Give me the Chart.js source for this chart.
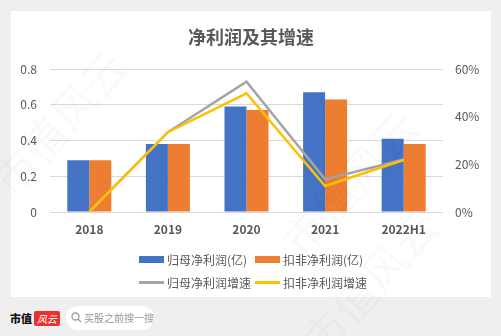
<!DOCTYPE html>
<html lang="zh">
  <head>
    <meta charset="UTF-8" />
    <title>净利润及其增速</title>
    <script src="https://cdn.jsdelivr.net/npm/chart.js@4.4.1/dist/chart.umd.min.js"></script>
    <style>
      body { margin: 0; background: #efefef; font-family: "Noto Sans CJK SC", sans-serif; }
      .page { position: relative; width: 501px; height: 336px; overflow: hidden; }
      .card { position: absolute; left: 11px; top: 11px; width: 480px; height: 286px; background: #fff; }
      #profit-chart { position: absolute; left: 0; top: 0; }
      .legend-item { position: absolute; display: flex; align-items: center; font-size: 12px; color: #595959; white-space: nowrap; }
      .legend-item .mark { width: 25px; margin-right: 3px; }
      .footer-brand { position: absolute; left: 10px; top: 310px; font-size: 11px; line-height: 16px; font-weight: 900; color: #111; }
      .footer-logo { position: absolute; left: 34px; top: 311px; width: 26px; height: 15px; background: #e8322d; color: #fff;
        font-size: 10px; font-style: italic; line-height: 15px; text-align: center; border-radius: 2px; }
      .search { position: absolute; left: 66px; top: 306px; width: 88px; height: 24px; background: #fff; border-radius: 12px;
        font-size: 10px; color: #9a9a9a; line-height: 24px; }
      .search svg { position: absolute; left: 5px; top: 6px; }
      .search span { position: absolute; left: 18px; }
      .wm { position: absolute; font-size: 44px; color: rgba(0, 0, 0, 0.022); transform: rotate(-48deg); white-space: nowrap; pointer-events: none; }
    </style>
  </head>
  <body>
    <div class="page">
      <div class="card">
        <canvas id="profit-chart" width="480" height="286"></canvas>
        <div id="legend"></div>
      </div>
      <div class="footer-brand">市值</div>
      <div class="footer-logo">风云</div>
      <div class="search">
        <svg width="11" height="11" viewBox="0 0 11 11"><circle cx="4.5" cy="4.5" r="3.5" fill="none" stroke="#999" stroke-width="1.3"/><line x1="7" y1="7" x2="10" y2="10" stroke="#999" stroke-width="1.3"/></svg>
        <span>买股之前搜一搜</span>
      </div>
      <!-- 水印 -->
      <div class="wm" style="left:-30px; top:90px;">市值风云</div>
      <div class="wm" style="left:260px; top:150px;">市值风云</div>
      <div class="wm" style="left:280px; top:250px;">市值风云</div>
    </div>

    <script>
      // 数据
      const years = ['2018', '2019', '2020', '2021', '2022H1'];
      const netProfit = [0.29, 0.38, 0.59, 0.67, 0.41];        // 归母净利润(亿)
      const deductedProfit = [0.29, 0.38, 0.57, 0.63, 0.38];   // 扣非净利润(亿)
      const netProfitGrowth = [0, 33.5, 54.7, 13.7, 22.0];     // 归母净利润增速(%)
      const deductedGrowth = [0, 33.5, 49.8, 10.9, 21.8];      // 扣非净利润增速(%)
      const profitTicks = [0, 0.2, 0.4, 0.6, 0.8];
      const growthTicks = [0, 20, 40, 60];

      const textColor = '#595959';
      const font = 'Noto Sans CJK SC';

      // order 越小画得越靠上，折线压在柱子上
      const datasets = [
        { type: 'bar', label: '归母净利润(亿)', data: netProfit, backgroundColor: '#4472c4', yAxisID: 'y', order: 2 },
        { type: 'bar', label: '扣非净利润(亿)', data: deductedProfit, backgroundColor: '#ed7d31', yAxisID: 'y', order: 3 },
        { type: 'line', label: '归母净利润增速', data: netProfitGrowth, borderColor: '#a5a5a5', yAxisID: 'y1', order: 1 },
        { type: 'line', label: '扣非净利润增速', data: deductedGrowth, borderColor: '#ffc000', yAxisID: 'y1', order: 0 },
      ];
      datasets.forEach((d) => {
        if (d.type === 'bar') {
          d.categoryPercentage = 0.56;
          d.barPercentage = 1;
        } else {
          d.borderWidth = 2.5;
          d.pointRadius = 0;
          d.tension = 0;
          d.fill = false;
        }
      });

      const ctx = document.getElementById('profit-chart').getContext('2d');
      new Chart(ctx, {
        data: { labels: years, datasets },
        options: {
          responsive: false,
          animation: false,
          layout: { padding: { left: 0, right: 0, top: 0, bottom: 60 } },
          plugins: {
            legend: { display: false },
            tooltip: { enabled: false },
            title: {
              display: true,
              text: '净利润及其增速',
              color: textColor,
              font: { family: font, size: 18, weight: 'bold', lineHeight: 1.2 },
              padding: { top: 15, bottom: 21.4 },
            },
          },
          scales: {
            x: {
              grid: { display: false, drawTicks: false },
              border: { display: false },
              ticks: { color: textColor, padding: 10, font: { family: font, size: 12, weight: 'bold' } },
              afterFit: (s) => { s.height = 25; },
            },
            y: {
              position: 'left',
              min: profitTicks[0],
              max: profitTicks[profitTicks.length - 1],
              afterBuildTicks: (s) => { s.ticks = profitTicks.map((v) => ({ value: v })); },
              grid: { color: '#d9d9d9', drawTicks: false },
              border: { display: false },
              ticks: { color: textColor, padding: 13, font: { family: font, size: 12 } },
              afterFit: (s) => { s.width = 39; },
            },
            y1: {
              position: 'right',
              min: growthTicks[0],
              max: growthTicks[growthTicks.length - 1],
              afterBuildTicks: (s) => { s.ticks = growthTicks.map((v) => ({ value: v })); },
              grid: { display: false, drawTicks: false },
              border: { display: false },
              ticks: { color: textColor, padding: 12, font: { family: font, size: 12 }, callback: (v) => v + '%' },
              afterFit: (s) => { s.width = 48; },
            },
          },
        },
      });

      // 图例（两行两列）
      const legend = document.getElementById('legend');
      const legendPos = [[128, 240], [244, 240], [128, 263], [244, 263]];
      datasets.forEach((d, i) => {
        const item = document.createElement('div');
        item.className = 'legend-item';
        item.style.left = legendPos[i][0] + 'px';
        item.style.top = legendPos[i][1] + 'px';
        const mark = document.createElement('span');
        mark.className = 'mark';
        if (d.type === 'bar') {
          mark.style.height = '7px';
          mark.style.background = d.backgroundColor;
        } else {
          mark.style.height = '3px';
          mark.style.background = d.borderColor;
        }
        item.appendChild(mark);
        item.appendChild(document.createTextNode(d.label));
        legend.appendChild(item);
      });
    </script>
  </body>
</html>
